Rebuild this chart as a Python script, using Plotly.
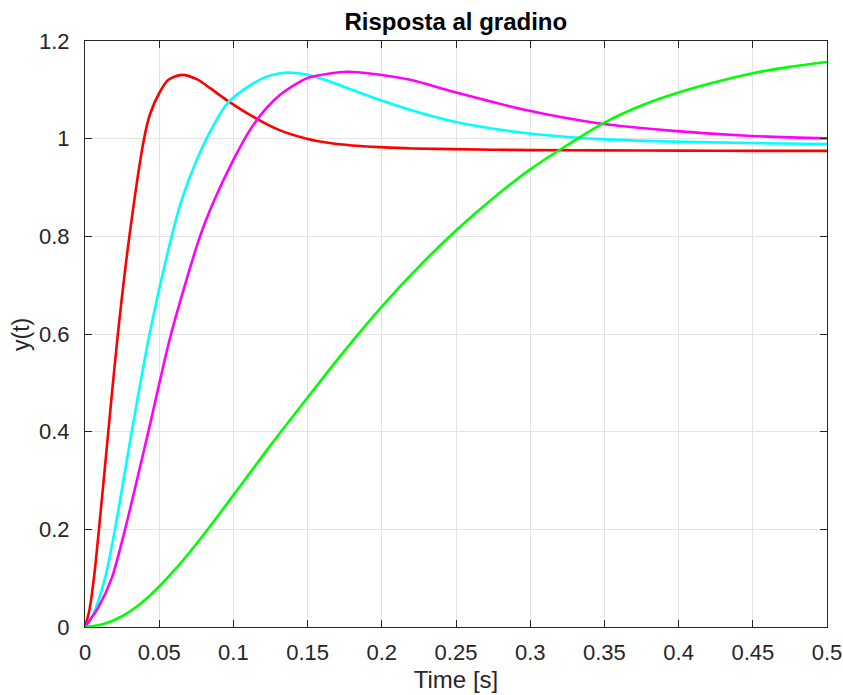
import plotly.graph_objects as go

# ---- data ----
t_red = [0, 0.003, 0.006, 0.0094, 0.0157, 0.0218, 0.0299, 0.0398, 0.0438, 0.0506,
         0.0562, 0.0652, 0.0753, 0.0843, 0.0955, 0.1112, 0.1315, 0.1494, 0.165, 0.18, 0.1989,
         0.22, 0.248, 0.3, 0.35, 0.4, 0.45, 0.5]
y_red = [0, 0.035, 0.1, 0.2, 0.4, 0.59, 0.8, 1.0, 1.05, 1.0966,
         1.1205, 1.1307, 1.1218, 1.1034, 1.079, 1.0487, 1.017, 1.000, 0.991, 0.986, 0.9826,
         0.980, 0.9785, 0.9765, 0.976, 0.9755, 0.975, 0.975]

t_cyan = [0, 0.005, 0.0135, 0.0202, 0.0315, 0.0435, 0.0584, 0.0652, 0.0753, 0.0843, 0.0955,
          0.1067, 0.1215, 0.1315, 0.14, 0.15, 0.165, 0.18, 0.1989, 0.22, 0.2483,
          0.2978, 0.347, 0.3966, 0.45, 0.5]
y_cyan = [0, 0.022, 0.1, 0.2, 0.4, 0.6, 0.8, 0.875, 0.9566, 1.0146, 1.071,
          1.10, 1.126, 1.134, 1.135, 1.131, 1.117, 1.10, 1.079, 1.058, 1.035,
          1.011, 0.999, 0.994, 0.991, 0.989]

t_mag = [0, 0.009, 0.018, 0.027, 0.0427, 0.058, 0.0775, 0.0865, 0.1, 0.1112, 0.1215,
         0.1315, 0.145, 0.1506, 0.165, 0.1764, 0.1989, 0.22, 0.2483, 0.2978, 0.347,
         0.3966, 0.446, 0.5]
y_mag = [0, 0.04, 0.1, 0.2, 0.4, 0.6, 0.8, 0.87, 0.9566, 1.018, 1.06,
         1.09, 1.117, 1.125, 1.1335, 1.137, 1.131, 1.12, 1.096, 1.058, 1.031,
         1.016, 1.006, 1.0005]

t_green = [0, 0.0125, 0.025, 0.0375, 0.05, 0.0625, 0.075, 0.0875, 0.1, 0.125, 0.15, 0.175,
           0.2, 0.225, 0.25, 0.275, 0.3, 0.325, 0.35, 0.375, 0.4, 0.425, 0.45, 0.475, 0.5]
y_green = [0, 0.006, 0.022, 0.048, 0.083, 0.124, 0.17, 0.219, 0.27, 0.372, 0.47, 0.566,
           0.656, 0.738, 0.812, 0.878, 0.937, 0.987, 1.033, 1.068, 1.0945, 1.116, 1.134, 1.147, 1.157]

x_ticks = [0, 0.05, 0.1, 0.15, 0.2, 0.25, 0.3, 0.35, 0.4, 0.45, 0.5]
x_ticklabels = ["0", "0.05", "0.1", "0.15", "0.2", "0.25", "0.3", "0.35", "0.4", "0.45", "0.5"]
y_ticks = [0, 0.2, 0.4, 0.6, 0.8, 1.0, 1.2]
y_ticklabels = ["0", "0.2", "0.4", "0.6", "0.8", "1", "1.2"]

title_text = "Risposta al gradino"
x_label = "Time [s]"
y_label = "y(t)"

FONT = "Liberation Sans, Arial, Helvetica, sans-serif"
AX = "#262626"

fig = go.Figure()
for tt, yy, col in [(t_red, y_red, "#ff0000"), (t_cyan, y_cyan, "#00ffff"),
                    (t_mag, y_mag, "#ff00ff"), (t_green, y_green, "#00ff00")]:
    fig.add_trace(go.Scatter(x=tt, y=yy, mode="lines",
                             line=dict(color=col, width=2.6, shape="spline", smoothing=0.8),
                             showlegend=False, hoverinfo="skip"))

axis_common = dict(showline=True, mirror="ticks", linecolor=AX, linewidth=1,
                   ticks="inside", ticklen=7, tickwidth=1, tickcolor=AX,
                   showgrid=True, gridcolor="#e3e3e3", gridwidth=1, zeroline=False,
                   automargin=False,
                   tickfont=dict(family=FONT, size=22, color=AX))

fig.update_layout(
    width=843, height=695,
    margin=dict(l=85, r=16, t=41, b=68),
    paper_bgcolor="white", plot_bgcolor="white",
    title=dict(text="<b>" + title_text + "</b>", x=(85 + 826.7) / 2 / 843, xanchor="center",
               xref="container", yref="container", y=1 - 22 / 695, yanchor="middle",
               font=dict(family=FONT, size=24, color="#000000")),
    xaxis=dict(range=[0, 0.5], tickvals=x_ticks, ticktext=x_ticklabels,
               ticklabelstandoff=6,
               title=dict(text=x_label, font=dict(family=FONT, size=24, color=AX), standoff=6),
               **axis_common),
    yaxis=dict(range=[0, 1.2], tickvals=y_ticks, ticktext=y_ticklabels,
               ticklabelstandoff=10, **axis_common),
    annotations=[dict(text=y_label, textangle=-90, xref="paper", yref="paper",
                      x=(21 - 85) / 741.7, y=0.5, xanchor="center", yanchor="middle",
                      showarrow=False, font=dict(family=FONT, size=23, color=AX))],
)

fig.write_html("out.html")
